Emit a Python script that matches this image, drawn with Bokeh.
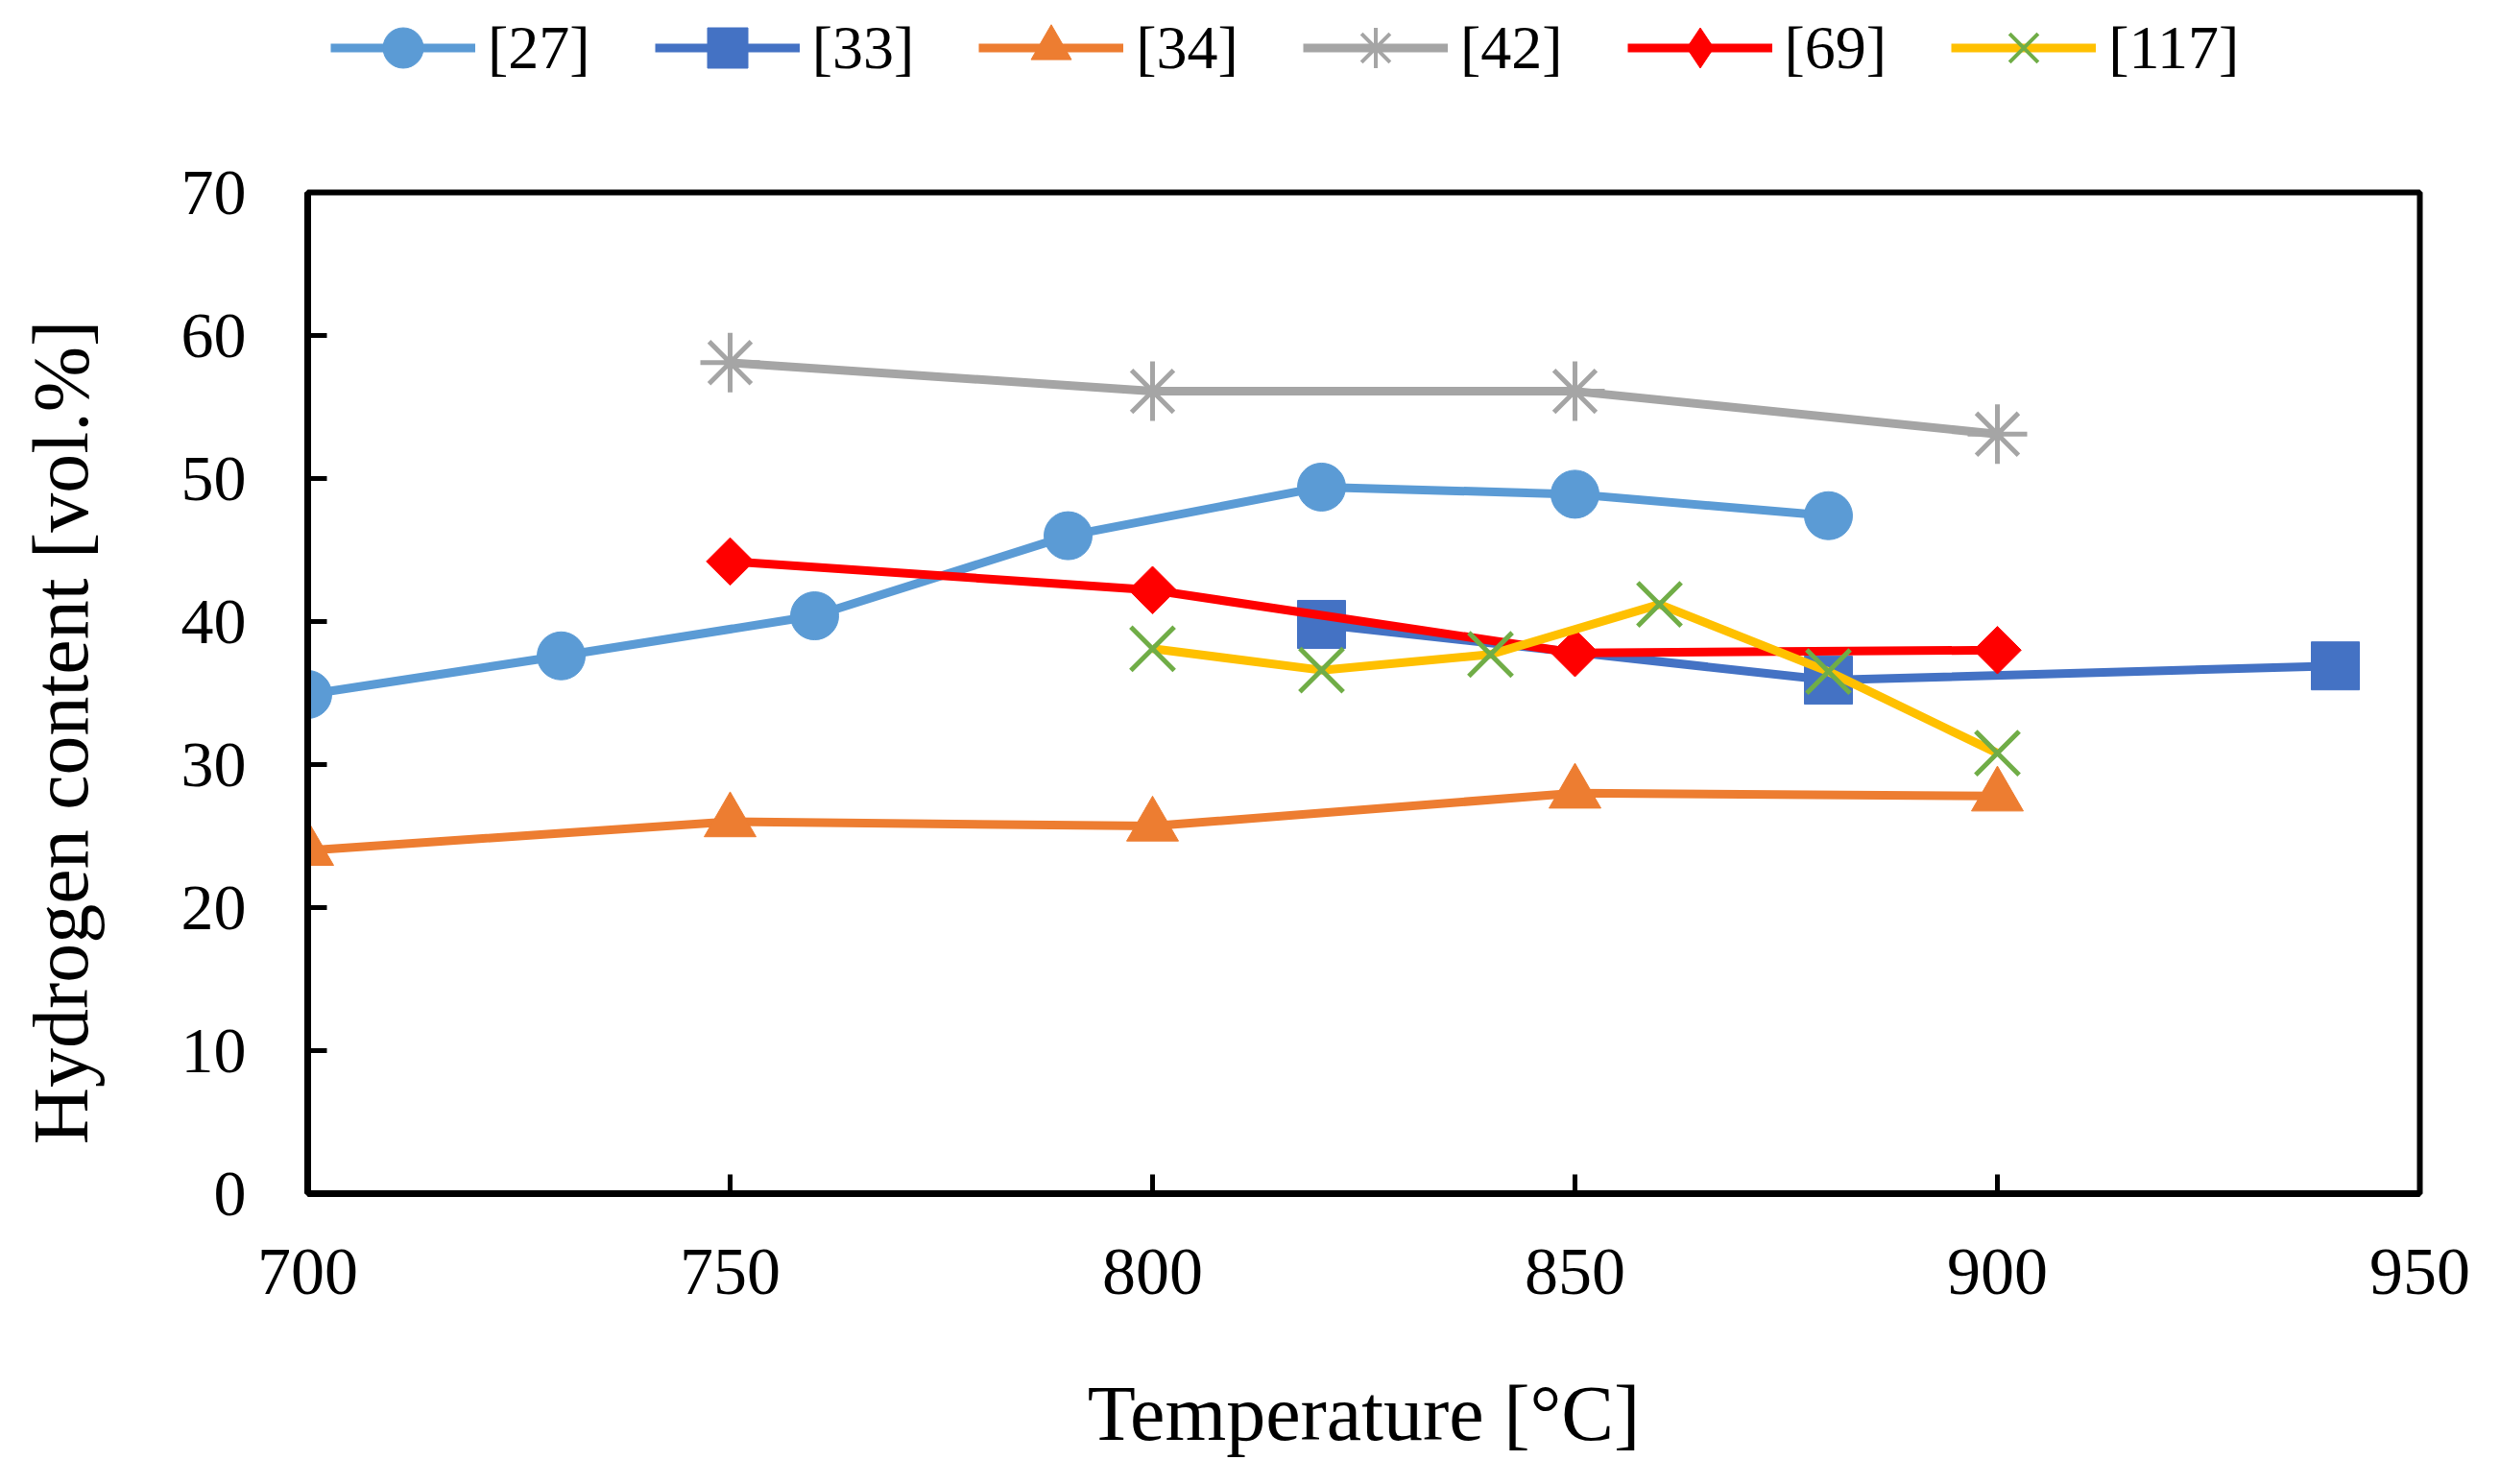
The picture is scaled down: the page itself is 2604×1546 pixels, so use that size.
import math
from bokeh.plotting import figure
from bokeh.layouts import column
from bokeh.models import Legend, LegendItem, FixedTicker, Range1d
from bokeh.embed import file_html
from bokeh.resources import INLINE

# ---- data ----
t27 = [700, 730, 760, 790, 820, 850, 880]
h27 = [34.9, 37.6, 40.4, 46.0, 49.4, 48.9, 47.4]

t33 = [820, 880, 940]
h33 = [39.8, 35.9, 36.9]

t34 = [700, 750, 800, 850, 900]
h34 = [24.0, 26.0, 25.7, 28.0, 27.8]

t42 = [750, 800, 850, 900]
h42 = [58.1, 56.1, 56.1, 53.1]

t69 = [750, 800, 850, 900]
h69 = [44.2, 42.2, 37.8, 38.0]

t117 = [800, 820, 840, 860, 880, 900]
h117 = [38.1, 36.6, 37.7, 41.2, 36.5, 30.8]

x_ticks = [700, 750, 800, 850, 900, 950]
y_ticks = [0, 10, 20, 30, 40, 50, 60, 70]
labels = ["[27]", "[33]", "[34]", "[42]", "[69]", "[117]"]
x_title = "Temperature [°C]"
y_title = "Hydrogen content [vol.%]"

FONT = "Liberation Serif"
W = 2584
LEG_H = 150
MAIN_H = 1526 - LEG_H
LW = 9

# (x, y, line style, marker style in chart, marker style in legend)
series = [
    (t27, h27, dict(line_color="#5B9BD5"),
     dict(marker="circle", size=50, fill_color="#5B9BD5", line_color="#5B9BD5"),
     dict(marker="circle", size=42, fill_color="#5B9BD5", line_color="#5B9BD5")),
    (t33, h33, dict(line_color="#4472C4"),
     dict(marker="square", size=50, fill_color="#4472C4", line_color="#4472C4"),
     dict(marker="square", size=42, fill_color="#4472C4", line_color="#4472C4")),
    (t34, h34, dict(line_color="#ED7D31"),
     dict(marker="triangle", size=54, fill_color="#ED7D31", line_color="#ED7D31"),
     dict(marker="triangle", size=42, fill_color="#ED7D31", line_color="#ED7D31")),
    (t42, h42, dict(line_color="#A5A5A5"),
     dict(marker="asterisk", size=62, line_color="#A5A5A5", line_width=5),
     dict(marker="asterisk", size=42, line_color="#A5A5A5", line_width=4)),
    (t69, h69, dict(line_color="#FF0000"),
     dict(marker="square", size=35, angle=math.pi / 4, fill_color="#FF0000", line_color="#FF0000"),
     dict(marker="diamond", size=42, fill_color="#FF0000", line_color="#FF0000")),
    (t117, h117, dict(line_color="#FFC000"),
     dict(marker="x", size=64, line_color="#70AD47", line_width=5),
     dict(marker="x", size=42, line_color="#70AD47", line_width=4)),
]

# ---------------- main chart ----------------
p = figure(width=W, height=MAIN_H, output_backend="svg", toolbar_location=None,
           x_range=Range1d(700, 950), y_range=Range1d(0, 70))
p.min_border_left = 320
p.min_border_top = 50
p.min_border_right = 64
p.min_border_bottom = 283

p.xgrid.visible = False
p.ygrid.visible = False
p.outline_line_color = "black"
p.outline_line_width = 6
p.background_fill_color = "white"
p.border_fill_color = "white"

for ax in (p.xaxis[0], p.yaxis[0]):
    ax.axis_line_color = "black"
    ax.axis_line_width = 7
    ax.major_tick_in = 20
    ax.major_tick_out = 0
    ax.major_tick_line_width = 5
    ax.minor_tick_line_color = None
    ax.major_label_text_font = FONT
    ax.major_label_text_color = "black"
    ax.axis_label_text_font = FONT
    ax.axis_label_text_font_size = "82px"
    ax.axis_label_text_font_style = "normal"
    ax.axis_label_text_color = "black"

p.xaxis.major_label_text_font_size = "70px"
p.yaxis.major_label_text_font_size = "68px"
p.xaxis.ticker = FixedTicker(ticks=x_ticks)
p.yaxis.ticker = FixedTicker(ticks=y_ticks)
p.xaxis.axis_label = x_title
# trailing no-break spaces shift the centred title slightly toward the bottom
p.yaxis.axis_label = y_title + "\u00a0" * 4
p.xaxis.major_label_standoff = 58
p.yaxis.major_label_standoff = 64
p.xaxis.axis_label_standoff = 76
p.yaxis.axis_label_standoff = 77

for xs, ys, lkw, mkw, _ in series:
    p.line(xs, ys, line_width=LW, **lkw)
    p.scatter(xs, ys, **mkw)

# ---------------- legend strip ----------------
pl = figure(width=W, height=LEG_H, output_backend="svg", toolbar_location=None,
            x_range=Range1d(0, 1), y_range=Range1d(0, 1),
            x_axis_type=None, y_axis_type=None, min_border=0)
pl.xgrid.visible = False
pl.ygrid.visible = False
pl.outline_line_color = None
pl.background_fill_color = "white"
pl.border_fill_color = "white"

items = []
for lab, (xs, ys, lkw, _, lgkw) in zip(labels, series):
    # same series, drawn outside this strip's ranges: only the legend shows them
    l = pl.line(xs, ys, line_width=LW, **lkw)
    m = pl.scatter(xs, ys, **lgkw)
    items.append(LegendItem(label=lab, renderers=[l, m]))

legend = Legend(items=items, orientation="horizontal", location=(24, 48))
legend.label_text_font = FONT
legend.label_text_font_size = "64px"
legend.label_text_color = "black"
legend.glyph_width = 151
legend.glyph_height = 105
legend.label_standoff = 13
legend.spacing = 67
legend.padding = 0
legend.margin = 0
legend.border_line_alpha = 0
legend.background_fill_alpha = 0
pl.add_layout(legend, "center")

layout = column(pl, p, spacing=0)
open("out.html", "w").write(file_html(layout, INLINE))
